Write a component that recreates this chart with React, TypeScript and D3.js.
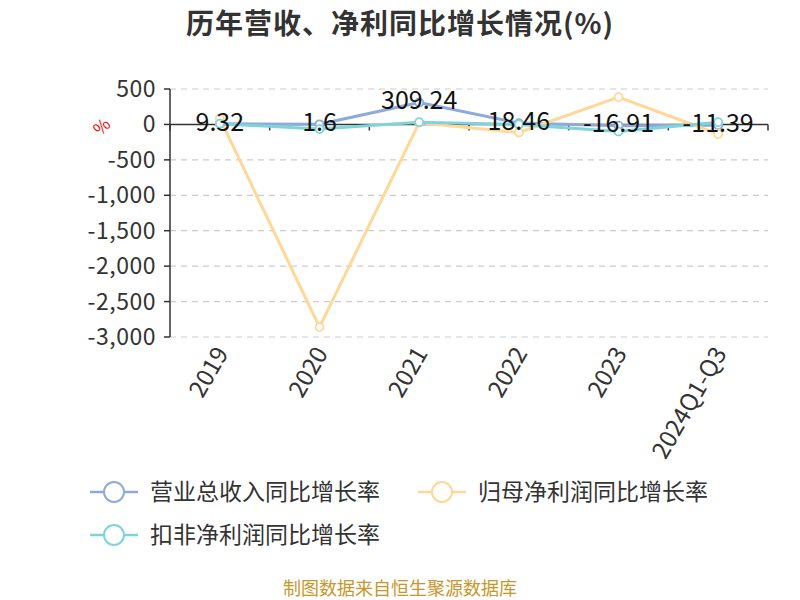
import React from "react";
import * as d3 from "d3";

const categories = ["2019", "2020", "2021", "2022", "2023", "2024Q1-Q3"];
const revenueGrowth = [9.32, 1.6, 309.24, 18.46, -16.91, -11.39];
const netProfitGrowth = [85, -2860, 25, -114, 385, -135];
const deductedGrowth = [10, -66, 32, 0, -100, 32];
const yTicks = [500, 0, -500, -1000, -1500, -2000, -2500, -3000];
const seriesNames = ["营业总收入同比增长率", "归母净利润同比增长率", "扣非净利润同比增长率"];
const colors = ["#8eaadc", "#ffd797", "#7fd4d9"];

const FONT = "'Noto Sans CJK SC', 'Noto Sans', sans-serif";

export default function App() {
  const left = 170, right = 768, top = 89, bottom = 337;
  const x = d3.scaleBand<string>().domain(categories).range([left, right]);
  const y = d3.scaleLinear().domain([-3000, 500]).range([bottom, top]);
  const locale = d3.formatLocale({ decimal: ".", thousands: ",", grouping: [3], currency: ["", ""], minus: "-" });
  const fmt = locale.format(",");
  const cx = (c: string) => (x(c) as number) + x.bandwidth() / 2;
  const line = d3.line<number>().x((_, i) => cx(categories[i])).y((d) => y(d));
  const allSeries = [revenueGrowth, netProfitGrowth, deductedGrowth];
  const y0 = y(0);

  return (
    <svg width={800} height={600} style={{ position: "absolute", left: 0, top: 0, background: "#fff" }} fontFamily={FONT}>
      <text x={400} y={34} textAnchor="middle" fontSize={28} fontWeight="bold" fill="#333" letterSpacing={1}>历年营收、净利同比增长情况(%)</text>
      {/* grid */}
      {yTicks.filter((t) => t !== 0).map((t) => (
        <line key={t} x1={left} x2={right} y1={y(t)} y2={y(t)} stroke="#ccc" strokeDasharray="6,5" strokeWidth={1.2} />
      ))}
      {/* y axis */}
      <line x1={left} x2={left} y1={top} y2={bottom} stroke="#333" strokeWidth={1.5} />
      {yTicks.map((t) => (
        <g key={t}>
          <line x1={left - 6} x2={left} y1={y(t)} y2={y(t)} stroke="#333" strokeWidth={1.5} />
          <text x={left - 14} y={y(t)} dy="0.35em" textAnchor="end" fontSize={23} letterSpacing={0.5} fill="#333">{fmt(t)}</text>
        </g>
      ))}
      <text transform={`translate(106,131) rotate(-45)`} textAnchor="middle" fontSize={17} fill="#e00">%</text>
      {/* x axis at zero */}
      <line x1={left} x2={right} y1={y0} y2={y0} stroke="#333" strokeWidth={1.5} />
      {categories.map((c) => (
        <line key={c} x1={(x(c) as number)} x2={(x(c) as number)} y1={y0} y2={y0 + 6} stroke="#333" strokeWidth={1.5} />
      ))}
      <line x1={right} x2={right} y1={y0} y2={y0 + 6} stroke="#333" strokeWidth={1.5} />
      {categories.map((c) => (
        <text key={c} transform={`translate(${cx(c) + 2},${bottom + 12}) rotate(-60)`} textAnchor="end" dy="0.35em" fontSize={24} fill="#333">{c}</text>
      ))}
      {/* lines */}
      {allSeries.map((s, k) => (
        <path key={k} d={line(s) as string} fill="none" stroke={colors[k]} strokeWidth={3} strokeLinejoin="round" />
      ))}
      {allSeries.map((s, k) => (
        <g key={k}>
          {s.map((v, i) => (
            <circle key={i} cx={cx(categories[i])} cy={y(v)} r={4} fill="#fff" stroke={colors[k]} strokeWidth={1.8} />
          ))}
        </g>
      ))}
      {revenueGrowth.map((v, i) => (
        <text key={i} x={cx(categories[i])} y={y(v) - 2} dy="0.35em" textAnchor="middle" fontSize={25} fill="#111">{String(v)}</text>
      ))}
      {/* legend */}
      {seriesNames.map((n, k) => {
        const lx = k === 1 ? 418 : 90;
        const ly = k === 2 ? 535 : 492;
        return (
          <g key={n}>
            <line x1={lx} x2={lx + 48} y1={ly} y2={ly} stroke={colors[k]} strokeWidth={2.5} />
            <circle cx={lx + 24} cy={ly} r={10} fill="#fff" stroke={colors[k]} strokeWidth={2} />
            <text x={lx + 60} y={ly} dy="0.35em" fontSize={23} fill="#333">{n}</text>
          </g>
        );
      })}
      <text x={400} y={589} dy="0.35em" textAnchor="middle" fontSize={18} fill="#c9962b">制图数据来自恒生聚源数据库</text>
    </svg>
  );
}
